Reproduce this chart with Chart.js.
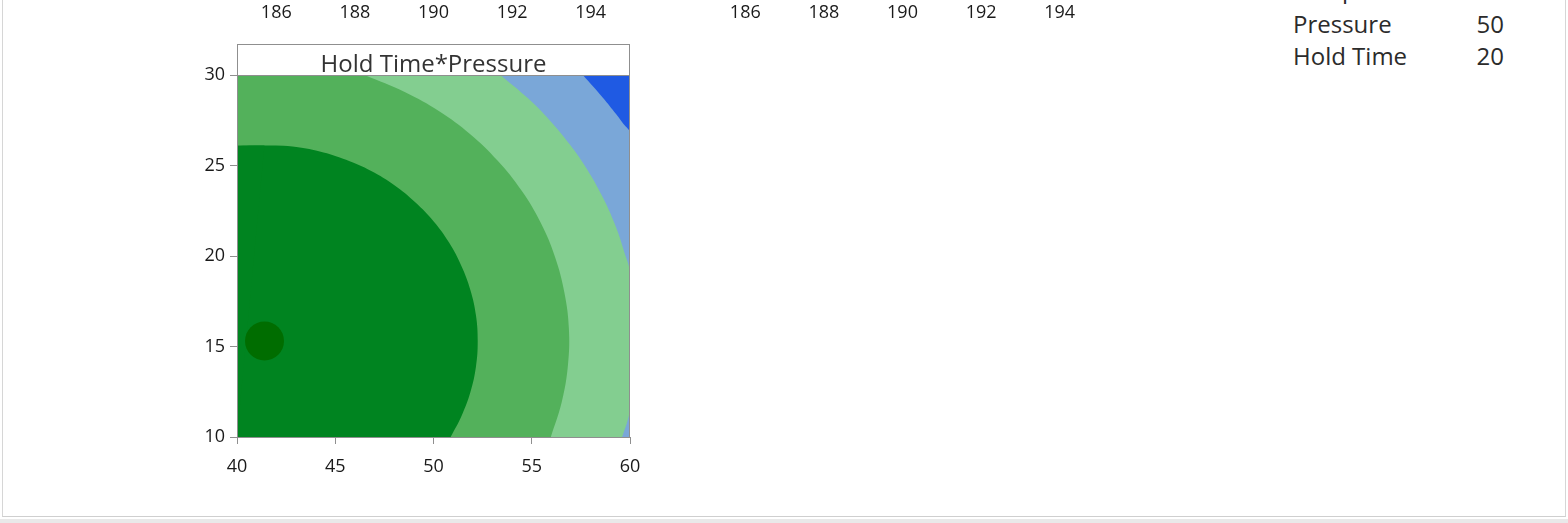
<!DOCTYPE html>
<html>
<head>
<meta charset="utf-8">
<script src="https://cdn.jsdelivr.net/npm/chart.js@4.4.1/dist/chart.umd.min.js"></script>
<style>
    html, body { margin: 0; padding: 0; background: #ffffff; overflow: hidden; }
    body { width: 1568px; height: 523px; position: relative; font-family: "Open Sans", sans-serif; }
    #frame { position: absolute; left: 2px; top: -2px; width: 1562px; height: 518px;
             border-left: 1px solid #d6d6d6; border-right: 1px solid #d6d6d6; border-bottom: 1px solid #cfcfcf; }
    #band { position: absolute; left: 0; top: 519px; width: 1568px; height: 4px; background: #e9e9e9; }
    canvas { position: absolute; top: 0; }
    #main { left: 0; }
    #strip1 { left: 237px; top: -8px; }
    #strip2 { left: 706px; top: -8px; }
    #holds { position: absolute; left: 1293px; top: -24px; width: 211px; font-size: 24px; line-height: 32px; color: #2b2b2b; }
    .row { display: flex; justify-content: space-between; }
    .cut { position: relative; top: -3px; }
</style>
</head>
<body>
<div id="frame"></div>
<div id="band"></div>
<canvas id="strip1" width="393" height="40"></canvas>
<canvas id="strip2" width="393" height="40"></canvas>
<canvas id="main" width="700" height="500"></canvas>
<div id="holds">
    <div class="row cut"><span>Temperature</span><span>190</span></div>
    <div class="row"><span>Pressure</span><span>50</span></div>
    <div class="row"><span>Hold Time</span><span>20</span></div>
</div>

<script>
/* Contour plot: Hold Time vs Pressure (hold values on the right) */

const pressureTicks = [40, 45, 50, 55, 60];
const holdTimeTicks = [10, 15, 20, 25, 30];
const temperatureTicks = [186, 188, 190, 192, 194];

// contour edges, as [hold time, pressure]
const darkGreenEdge = [
    [10, 50.87], [11.15, 51.42], [12.49, 51.88], [13.88, 52.16], [15.3, 52.25],
    [16.72, 52.16], [18.11, 51.88], [19.45, 51.42], [20.73, 50.8], [21.91, 50.01],
    [22.97, 49.07], [23.91, 48.01], [24.7, 46.83], [25.32, 45.55], [25.78, 44.21],
    [26.05, 42.82], [26.15, 41.4], [26.1, 40]
];
const mediumGreenEdge = [
    [10, 55.97], [11.95, 56.53], [13.95, 56.84], [15.98, 56.89], [17.99, 56.66],
    [19.96, 56.18], [21.85, 55.45], [23.63, 54.47], [25.26, 53.27], [26.73, 51.87],
    [28.0, 50.29], [29.05, 48.56], [30, 46.5]
];
const lightGreenEdge = [
    [10, 59.6], [11, 59.9], [11.6, 60], [19, 60], [20.21, 59.71], [21.78, 59.22],
    [23.31, 58.58], [24.78, 57.82], [26.17, 56.93], [27.49, 55.92], [28.71, 54.81], [30, 53.4]
];
const lightBlueEdge = [
    [10, 60], [26.75, 60], [27.3, 59.66], [27.83, 59.3], [28.75, 58.62], [30, 57.6]
];
const plotDomain = [[10, 60], [30, 60]];
const optimum = [15.3, 41.4];

const FONT = "'Open Sans', sans-serif";
const AXIS_GRAY = "#8f8f8f";
const TICK_TEXT = "#1a1a1a";

function band(points, color, order) {
    return {
        data: points.map(([h, p]) => ({ x: p, y: h })),
        backgroundColor: color,
        borderWidth: 0,
        pointRadius: 0,
        // fill leftwards to the low end of the pressure axis
        fill: { value: pressureTicks[0] },
        tension: 0.4,
        order
    };
}

// outer frame of the plot and the boxed panel title
const panelFrame = {
    id: "panelFrame",
    afterDatasetsDraw(chart) {
        const { ctx, chartArea: a } = chart;
        ctx.save();
        ctx.strokeStyle = AXIS_GRAY;
        ctx.lineWidth = 1;
        ctx.strokeRect(a.left + 0.5, a.top + 0.5, a.right - a.left - 1, a.bottom - a.top);
        ctx.strokeRect(a.left + 0.5, a.top - 30.5, a.right - a.left - 1, 31);
        ctx.fillStyle = "#333333";
        ctx.font = "24px " + FONT;
        ctx.textAlign = "center";
        ctx.textBaseline = "alphabetic";
        ctx.fillText("Hold Time*Pressure", (a.left + a.right) / 2, a.top - 3.5);
        ctx.restore();
    }
};

function axisTicks(values) {
    return (scale) => {
        scale.ticks = values.map((v) => ({ value: v }));
    };
}

new Chart(document.getElementById("main"), {
    type: "line",
    data: {
        datasets: [
            {
                data: [{ x: optimum[1], y: optimum[0] }],
                showLine: false,
                pointRadius: 19.5,
                pointBorderWidth: 0,
                pointBackgroundColor: "#006d00",
                fill: false,
                order: 0
            },
            band(darkGreenEdge, "#008420", 1),
            band(mediumGreenEdge, "#53b15b", 2),
            band(lightGreenEdge, "#83ce90", 3),
            band(lightBlueEdge, "#7aa7d8", 4),
            band(plotDomain, "#1f5ae3", 5)
        ]
    },
    options: {
        responsive: false,
        animation: false,
        indexAxis: "y",
        layout: { padding: { left: 0, right: 70, top: 75, bottom: 0 } },
        plugins: { legend: { display: false }, tooltip: { enabled: false } },
        scales: {
            x: {
                type: "linear",
                position: "bottom",
                min: 40,
                max: 60,
                afterBuildTicks: axisTicks(pressureTicks),
                afterFit: (s) => { s.height = 63; },
                grid: { display: true, drawOnChartArea: false, drawTicks: true, tickLength: 7, color: AXIS_GRAY },
                border: { display: false },
                ticks: { padding: 12, color: TICK_TEXT, font: { family: FONT, size: 18 } }
            },
            y: {
                type: "linear",
                position: "left",
                min: 10,
                max: 30,
                afterBuildTicks: axisTicks(holdTimeTicks),
                afterFit: (s) => { s.width = 237; },
                grid: { display: true, drawOnChartArea: false, drawTicks: true, tickLength: 7, color: AXIS_GRAY },
                border: { display: false },
                ticks: { padding: 5, color: TICK_TEXT, font: { family: FONT, size: 18 } }
            }
        }
    },
    plugins: [panelFrame]
});

// tick labels left over from the panels above (cut off at the top)
function makeStrip(canvasId) {
    return new Chart(document.getElementById(canvasId), {
        type: "line",
        data: { datasets: [] },
        options: {
            responsive: false,
            animation: false,
            layout: { padding: 0 },
            plugins: { legend: { display: false }, tooltip: { enabled: false } },
            scales: {
                x: {
                    type: "linear",
                    position: "bottom",
                    min: 185,
                    max: 195,
                    afterBuildTicks: axisTicks(temperatureTicks),
                    afterFit: (s) => { s.height = 38; },
                    grid: { display: false },
                    border: { display: false },
                    ticks: { padding: 0, color: TICK_TEXT, font: { family: FONT, size: 18 } }
                },
                y: { display: false, min: 0, max: 1 }
            }
        }
    });
}

makeStrip("strip1");
makeStrip("strip2");
</script>
</body>
</html>
